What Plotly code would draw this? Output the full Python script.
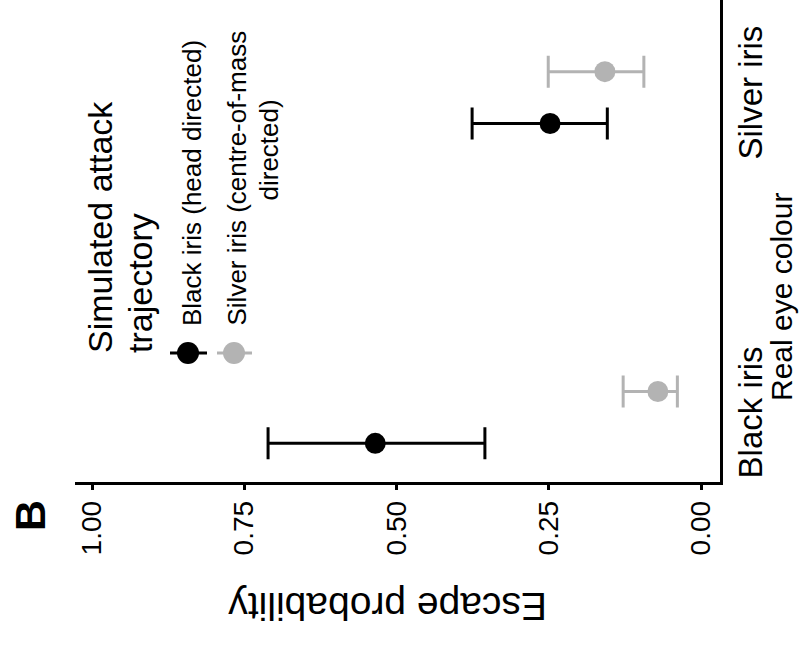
import plotly.graph_objects as go

# ---------------- data ----------------
categories = ["Black iris", "Silver iris"]
series_names = ["Black iris (head directed)", "Silver iris (centre-of-mass directed)"]
head_mean = [0.535, 0.248]
head_low = [0.355, 0.154]
head_high = [0.711, 0.376]
com_mean = [0.071, 0.158]
com_low = [0.039, 0.094]
com_high = [0.128, 0.251]
x_tick_vals = [0.0, 0.25, 0.5, 0.75, 1.0]
x_tick_labels = ["0.00", "0.25", "0.50", "0.75", "1.00"]

# ---------------- style ----------------
BLACK = "#000000"
GREY = "#B3B3B3"
FONT = "Liberation Sans, Arial, Helvetica, sans-serif"
W, H = 807, 647
ML, MR, MT, MB = 75, 87, 0, 165
PW = W - ML - MR
PH = H - MT - MB
DODGE = 0.081


def px(X):
    return (X - ML) / PW


def py(Y):
    return (H - MB - Y) / PH


fig = go.Figure()

series = [
    (head_mean, head_low, head_high, BLACK, -DODGE),
    (com_mean, com_low, com_high, GREY, DODGE),
]
for (mean, low, high, col, off), name in zip(series, series_names):
    ypos = [i + 1 + off for i in range(len(categories))]
    fig.add_trace(go.Scatter(
        x=mean, y=ypos, mode="markers", name=name, showlegend=False,
        marker=dict(color=col, size=21, line=dict(width=0)),
        error_x=dict(type="data", symmetric=False,
                     array=[h - m for h, m in zip(high, mean)],
                     arrayminus=[m - l for m, l in zip(mean, low)],
                     color=col, thickness=3, width=16),
    ))

fig.update_layout(
    width=W, height=H,
    margin=dict(l=ML, r=MR, t=MT, b=MB),
    paper_bgcolor="white", plot_bgcolor="white",
    font=dict(family=FONT, color=BLACK),
    xaxis=dict(range=[1.028, -0.031], tickvals=x_tick_vals, ticktext=x_tick_labels,
               tickangle=-90, ticks="outside", ticklen=5, tickwidth=2.5, tickcolor=BLACK,
               showline=True, linewidth=2.5, linecolor=BLACK, showgrid=False,
               zeroline=False, tickfont=dict(size=28, color=BLACK, family=FONT)),
    yaxis=dict(range=[0.798, 2.305], tickvals=[1, 2], ticktext=categories, side="right",
               tickangle=-90, ticks="", showline=True, linewidth=2.5, linecolor=BLACK,
               showgrid=False, zeroline=False, ticklabelstandoff=0,
               tickfont=dict(size=33, color=BLACK, family=FONT)),
)

ann = []
# panel tag
ann.append(dict(x=px(30), y=py(516), text="<b>B</b>", textangle=-90, showarrow=False,
                xref="paper", yref="paper", xanchor="center", yanchor="middle",
                font=dict(size=43, color=BLACK, family=FONT)))
# axis titles
ann.append(dict(x=px(388), y=py(607), text="Escape probability", textangle=180, showarrow=False,
                xref="paper", yref="paper", xanchor="center", yanchor="middle",
                font=dict(size=39, color=BLACK, family=FONT)))
ann.append(dict(x=px(781), y=py(297), text="Real eye colour", textangle=-90, showarrow=False,
                xref="paper", yref="paper", xanchor="center", yanchor="middle",
                font=dict(size=30, color=BLACK, family=FONT)))
# legend title
ann.append(dict(x=px(100), y=py(355), text="Simulated attack", textangle=-90, showarrow=False,
                xref="paper", yref="paper", xanchor="center", yanchor="bottom",
                font=dict(size=34, color=BLACK, family=FONT)))
ann.append(dict(x=px(140), y=py(355), text="trajectory", textangle=-90, showarrow=False,
                xref="paper", yref="paper", xanchor="center", yanchor="bottom",
                font=dict(size=34, color=BLACK, family=FONT)))
# legend labels
ann.append(dict(x=px(192), y=py(328), text=series_names[0], textangle=-90, showarrow=False,
                xref="paper", yref="paper", xanchor="center", yanchor="bottom",
                font=dict(size=26, color=BLACK, family=FONT)))
ann.append(dict(x=px(236), y=py(328), text="Silver iris (centre-of-mass", textangle=-90,
                showarrow=False, xref="paper", yref="paper", xanchor="center", yanchor="bottom",
                font=dict(size=26, color=BLACK, family=FONT)))
ann.append(dict(x=px(269), y=py(203), text="directed)", textangle=-90, showarrow=False,
                xref="paper", yref="paper", xanchor="center", yanchor="bottom",
                font=dict(size=26, color=BLACK, family=FONT)))
fig.update_layout(annotations=ann)

# legend keys
shapes = []
for cx, col, x0, x1 in [(188, BLACK, 170, 207), (234, GREY, 217, 252)]:
    cy = 353
    r = 11
    shapes.append(dict(type="line", xref="paper", yref="paper", x0=px(x0), x1=px(x1),
                       y0=py(cy), y1=py(cy), line=dict(color=col, width=3)))
    shapes.append(dict(type="circle", xref="paper", yref="paper", x0=px(cx - r), x1=px(cx + r),
                       y0=py(cy + r), y1=py(cy - r), fillcolor=col, line=dict(width=0)))
fig.update_layout(shapes=shapes)

fig.write_html("out.html", config={"displayModeBar": False},
               post_script="document.body.style.margin='0';")
